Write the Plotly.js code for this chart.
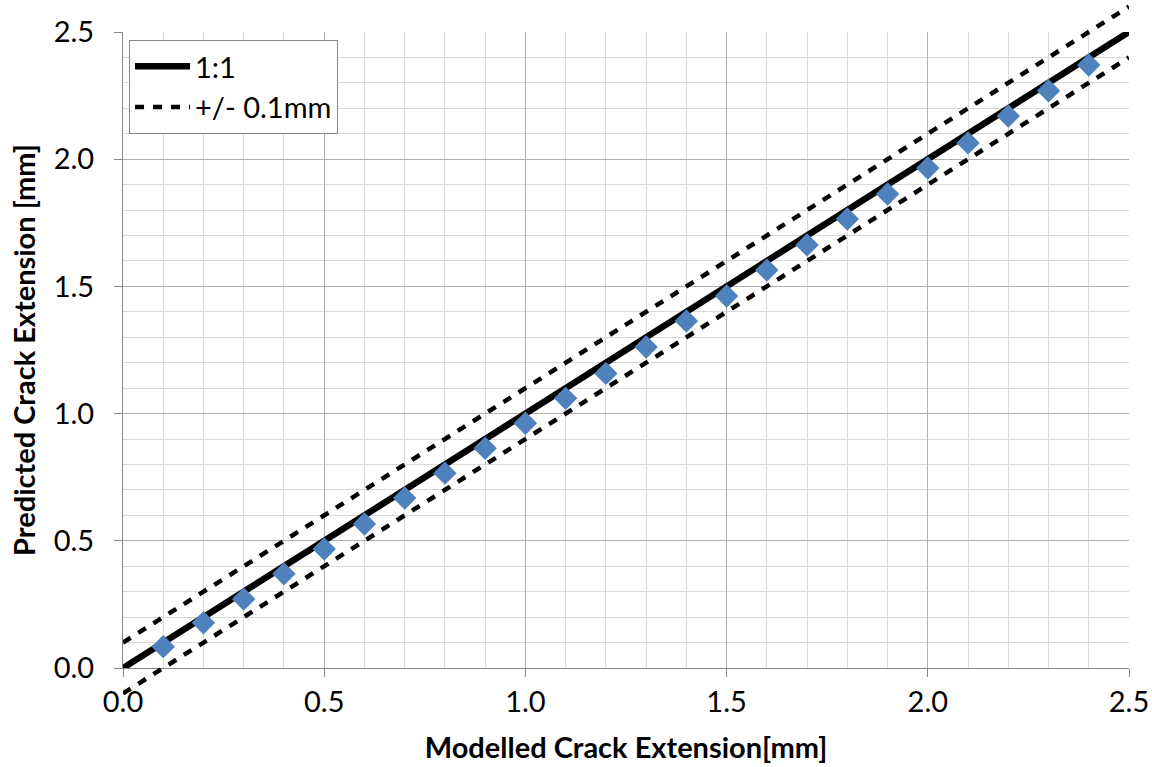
<!DOCTYPE html>
<html>
<head>
<meta charset="utf-8">
<script src="https://cdn.plot.ly/plotly-3.0.1.min.js"></script>
<style>html,body{margin:0;padding:0;background:#fff;}#chart{width:1152px;height:767px;}</style>
</head>
<body>
<div id="chart"></div>
<script>
// Data
const modelled = [0.1,0.2,0.3,0.4,0.5,0.6,0.7,0.8,0.9,1.0,1.1,1.2,1.3,1.4,1.5,1.6,1.7,1.8,1.9,2.0,2.1,2.2,2.3,2.4];
const predicted = [0.084,0.178,0.271,0.370,0.468,0.566,0.668,0.766,0.864,0.962,1.060,1.158,1.262,1.364,1.462,1.564,1.663,1.765,1.863,1.965,2.064,2.170,2.269,2.370];
const lineX = [0, 2.5];
const lineOneToOne = [0, 2.5];
const lineUpper = [0.1, 2.6];
const lineLower = [-0.1, 2.4];
const xTickVals = [0, 0.5, 1.0, 1.5, 2.0, 2.5];
const yTickVals = [0, 0.5, 1.0, 1.5, 2.0, 2.5];

// geometry
const W = 1152, H = 767;
const mL = 123, mR = 23, mT = 2, mB = 60;
const plotTopPx = 32, plotBotPx = 668;
const paperH = H - mT - mB;
const yMax = 2.5;
const pxPerUnit = (plotBotPx - plotTopPx) / yMax;
const d0 = (H - mB - plotBotPx) / paperH;
const d1 = (H - mB - plotTopPx) / paperH;
const y2lo = -(H - mB - plotBotPx) / pxPerUnit;
const y2hi = (plotBotPx - mT) / pxPerUnit;

const FONT = 'Lato, "Open Sans", sans-serif';
const FS = 29;

const traces = [
  {x: lineX, y: lineOneToOne, mode: 'lines', name: '1:1', xaxis: 'x', yaxis: 'y',
   line: {color: '#000', width: 6.5}},
  {x: lineX, y: lineUpper, mode: 'lines', name: '+/- 0.1mm', xaxis: 'x2', yaxis: 'y2',
   line: {color: '#000', width: 4.5, dash: '9px,9px'}},
  {x: lineX, y: lineLower, mode: 'lines', name: '-0.1', showlegend: false, xaxis: 'x2', yaxis: 'y2',
   line: {color: '#000', width: 4.5, dash: '9px,9px'}},
  {x: modelled, y: predicted, mode: 'markers', name: 'data', showlegend: false, xaxis: 'x', yaxis: 'y',
   marker: {symbol: 'diamond', size: 18, color: '#4f81bd'}}
];

const layout = {
  width: W, height: H,
  margin: {l: mL, r: mR, t: mT, b: mB},
  paper_bgcolor: '#fff', plot_bgcolor: 'rgba(0,0,0,0)',
  font: {family: FONT, size: FS, color: '#000'},
  showlegend: true,
  legend: {x: 0.006, y: (H - mB - 40) / paperH, xanchor: 'left', yanchor: 'top',
    bgcolor: '#fff', bordercolor: '#868686', borderwidth: 1, itemwidth: 55,
    font: {family: FONT, size: 29, color: '#000'}, tracegroupgap: 0},
  xaxis: {domain: [0, 1], anchor: 'y', range: [0, 2.5], autorange: false,
    tickvals: xTickVals, tickformat: '.1f', ticks: 'outside', ticklen: 8, tickcolor: '#868686',
    showline: true, linecolor: '#868686', linewidth: 1, zeroline: false,
    showgrid: true, gridcolor: '#b0b0b0', gridwidth: 1,
    minor: {dtick: 0.1, showgrid: true, gridcolor: '#d9d9d9', gridwidth: 1, ticks: ''},
    tickfont: {family: FONT, size: FS, color: '#000'},
    title: {text: '<b>Modelled Crack Extension[mm]</b>', font: {family: FONT, size: FS, color: '#000'}, standoff: 20}},
  yaxis: {domain: [d0, d1], anchor: 'x', range: [0, 2.5], autorange: false,
    tickvals: yTickVals, tickformat: '.1f', ticks: 'outside', ticklen: 8, tickcolor: '#868686',
    showline: true, linecolor: '#868686', linewidth: 1, zeroline: false,
    showgrid: true, gridcolor: '#b0b0b0', gridwidth: 1,
    minor: {dtick: 0.1, showgrid: true, gridcolor: '#d9d9d9', gridwidth: 1, ticks: ''},
    tickfont: {family: FONT, size: FS, color: '#000'},
    ticklabelstandoff: 14,
    title: {text: '<b>Predicted Crack Extension [mm]</b>', font: {family: FONT, size: FS, color: '#000'}, standoff: 9}},
  xaxis2: {domain: [0, 1], anchor: 'y2', range: [0, 2.5], autorange: false, visible: false, showgrid: false, zeroline: false},
  yaxis2: {domain: [0, 1], anchor: 'x2', range: [y2lo, y2hi], autorange: false, visible: false, showgrid: false, zeroline: false}
};

Plotly.newPlot('chart', traces, layout, {staticPlot: true, displayModeBar: false});
</script>
</body>
</html>
